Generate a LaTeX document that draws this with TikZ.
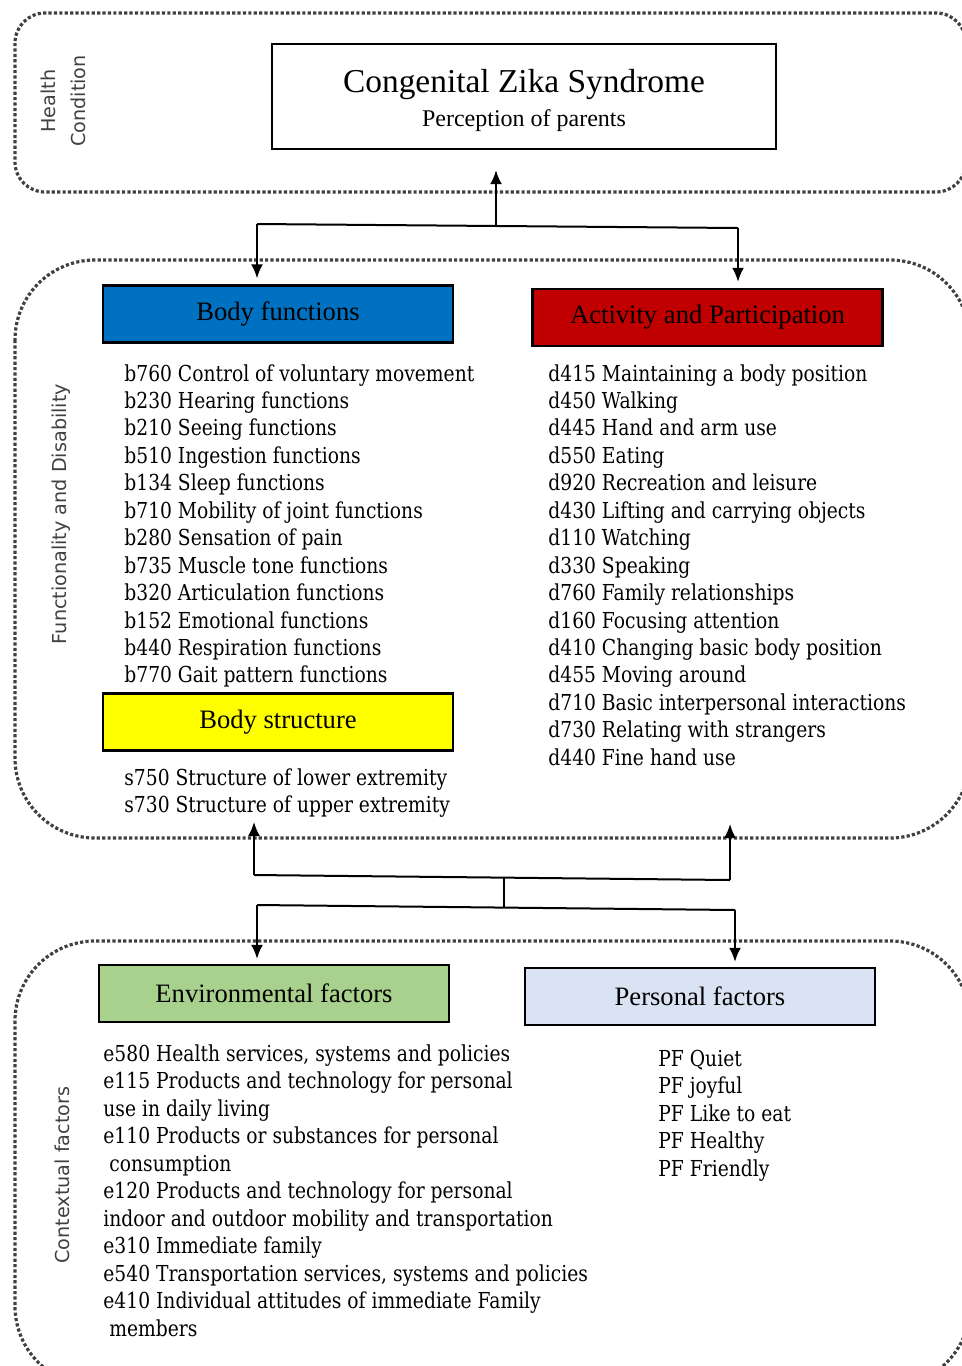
\documentclass[tikz,border=0pt]{standalone}
\usepackage{fontspec}
\setmainfont{Liberation Serif}
\newfontfamily\listfont[FakeStretch=0.85]{DejaVu Serif}
\newfontfamily\sidefont{DejaVu Sans}
\usetikzlibrary{arrows.meta}
\definecolor{bodyblue}{HTML}{0070C0}
\definecolor{actred}{HTML}{C00000}
\definecolor{strucyellow}{HTML}{FFFF00}
\definecolor{envgreen}{HTML}{A9D18E}
\definecolor{perblue}{HTML}{DAE3F3}
\definecolor{dotgray}{HTML}{404040}
\tikzset{
  group/.style={draw=dotgray, line width=1.6pt, dash pattern=on 1.6pt off 1.1pt, rounded corners=40pt},
  head/.style={draw, line width=1.2pt, minimum width=175pt, minimum height=28.5pt, inner sep=0pt,
    font=\fontsize{13.3}{15}\selectfont},
  item/.style={anchor=base west, inner sep=0pt, font=\listfont\fontsize{11}{13}\selectfont},
  side/.style={rotate=90, align=center, text=dotgray, font=\sidefont\fontsize{9.6}{15}\selectfont},
  link/.style={line width=1pt},
  arrow/.style={link, -{Latex[length=7pt,width=6pt]}}
}
\begin{document}
\begin{tikzpicture}[x=0.5pt,y=-0.5pt]
  \useasboundingbox (0,0) rectangle (962,1366);
  \clip (0,0) rectangle (962,1366);

  % groups
  \draw [group, rounded corners=15pt] (15,13) rectangle (966,192);
  \draw [group] (15,260) rectangle (970,838);
  \draw [group] (15,941) rectangle (970,1386);

  \node [side] (health) at (63,101) {Health\\Condition};
  \node [side] (funcdis) at (61,514) {Functionality and Disability};
  \node [side] (context) at (62,1175) {Contextual factors};

  % health condition
  \node [draw, line width=1.2pt, minimum width=252pt, minimum height=52.5pt] (czs) at (524,96.5) {};
  \node [anchor=base, font=\fontsize{16.7}{20}\selectfont] (czsname) at (524,92) {Congenital Zika Syndrome};
  \node [anchor=base, font=\fontsize{12}{14}\selectfont] (czssub) at (524,126) {Perception of parents};

  % components
  \node [head, fill=bodyblue] (bodyfun) at (278,314) {Body functions};
  \node [head, fill=actred] (activity) at (707.5,317.5) {Activity and Participation};
  \node [head, fill=strucyellow] (bodystr) at (278,722) {Body structure};
  \node [head, fill=envgreen] (envfac) at (274,993.5) {Environmental factors};
  \node [head, fill=perblue] (perfac) at (700,996.5) {Personal factors};

  \foreach \t [count=\i from 0] in {b760 Control of voluntary movement, b230 Hearing functions,
      b210 Seeing functions, b510 Ingestion functions, b134 Sleep functions,
      b710 Mobility of joint functions, b280 Sensation of pain, b735 Muscle tone functions,
      b320 Articulation functions, b152 Emotional functions, b440 Respiration functions,
      b770 Gait pattern functions}
    \node [item] (bfitem\i) at (124,381+27.45*\i) {\t};

  \foreach \t [count=\i from 0] in {s750 Structure of lower extremity, s730 Structure of upper extremity}
    \node [item] (bsitem\i) at (124,785+27.3*\i) {\t};

  \foreach \t [count=\i from 0] in {d415 Maintaining a body position, d450 Walking,
      d445 Hand and arm use, d550 Eating, d920 Recreation and leisure,
      d430 Lifting and carrying objects, d110 Watching, d330 Speaking,
      d760 Family relationships, d160 Focusing attention, d410 Changing basic body position,
      d455 Moving around, d710 Basic interpersonal interactions, d730 Relating with strangers,
      d440 Fine hand use}
    \node [item] (apitem\i) at (548,381+27.45*\i) {\t};

  \foreach \t [count=\i from 0] in {{e580 Health services, systems and policies},
      e115 Products and technology for personal, use in daily living,
      e110 Products or substances for personal, \hspace*{3pt}consumption,
      e120 Products and technology for personal,
      indoor and outdoor mobility and transportation, e310 Immediate family,
      {e540 Transportation services, systems and policies},
      e410 Individual attitudes of immediate Family, \hspace*{3pt}members}
    \node [item] (efitem\i) at (103,1061+27.5*\i) {\t};

  \foreach \t [count=\i from 0] in {PF Quiet, PF joyful, PF Like to eat, PF Healthy, PF Friendly}
    \node [item] (pfitem\i) at (658,1066+27.5*\i) {\t};

  % connectors to health condition
  \coordinate (topl) at (257,224);
  \coordinate (topr) at (738,228);
  \coordinate (topj) at (496,226);
  \draw [link] (topl) -- (topr);
  \draw [arrow, shorten >=10pt] (topj) -- (topj |- czs.south);
  \draw [arrow, shorten >=3pt] (topl) -- (topl |- bodyfun.north);
  \draw [arrow, shorten >=3pt] (topr) -- (topr |- activity.north);

  % connectors to contextual factors
  \coordinate (midl) at (254,875);
  \coordinate (midr) at (730,880);
  \coordinate (midj) at (504,877.5);
  \coordinate (midul) at (254,822);
  \coordinate (midur) at (730,824);
  \coordinate (lowl) at (257,905);
  \coordinate (lowr) at (735,910);
  \coordinate (lowj) at (504,907.5);
  \draw [link] (midl) -- (midr);
  \draw [arrow] (midl) -- (midul);
  \draw [arrow] (midr) -- (midur);
  \draw [link] (midj) -- (lowj);
  \draw [link] (lowl) -- (lowr);
  \draw [arrow, shorten >=2.5pt] (lowl) -- (lowl |- envfac.north);
  \draw [arrow, shorten >=2.5pt] (lowr) -- (lowr |- perfac.north);
\end{tikzpicture}
\end{document}
